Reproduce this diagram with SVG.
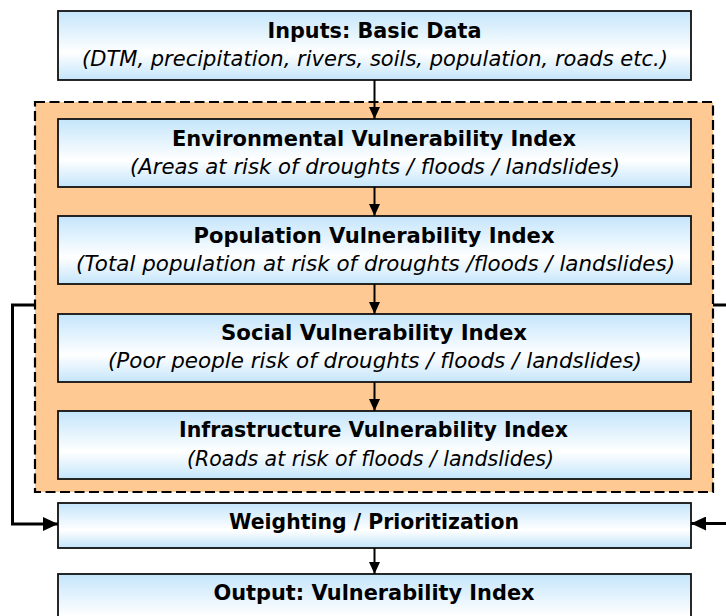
<svg xmlns="http://www.w3.org/2000/svg" width="726" height="616" viewBox="0 0 726 616">
<defs>
<linearGradient id="boxfill" x1="0" y1="0" x2="0" y2="1">
<stop offset="0" stop-color="#c4e5fb"/>
<stop offset="0.6" stop-color="#ffffff"/>
<stop offset="1" stop-color="#c4e5fb"/>
</linearGradient>
<marker id="arrowThin" markerUnits="userSpaceOnUse" markerWidth="12" markerHeight="12" viewBox="0 0 12 12" refX="12" refY="6" orient="auto">
<path d="M0,0.5 L12,6 L0,11.5 Z" fill="#000"/>
</marker>
<marker id="arrowThick" markerUnits="userSpaceOnUse" markerWidth="15" markerHeight="14" viewBox="0 0 15 14" refX="15" refY="7" orient="auto">
<path d="M0,0 L15,7 L0,14 Z" fill="#000"/>
</marker>
</defs>
<style>
.box { fill: url(#boxfill); stroke: #111; stroke-width: 1.8; }
.group { fill: #ffc993; stroke: #000; stroke-width: 2.2; stroke-dasharray: 10 4.5; }
.title { font-family: "DejaVu Sans", "Liberation Sans", sans-serif; font-weight: bold; font-size: 21px; fill: #000; text-anchor: middle; }
.sub { font-family: "DejaVu Sans", "Liberation Sans", sans-serif; font-style: italic; font-size: 21px; fill: #000; text-anchor: middle; }
.thin { fill: none; stroke: #000; stroke-width: 2; marker-end: url(#arrowThin); }
.thick { fill: none; stroke: #000; stroke-width: 3; }
.thickArrow { fill: none; stroke: #000; stroke-width: 3; marker-end: url(#arrowThick); }
</style>
<rect width="726" height="616" fill="#fff"/>

<g id="vulnerability-group">
<rect class="group" x="35" y="102" width="678" height="390"/>
</g>

<g id="inputs">
<rect class="box" x="58" y="11" width="633" height="69"/>
<text class="title" x="374.5" y="37.5" textLength="214" lengthAdjust="spacingAndGlyphs">Inputs: Basic Data</text>
<text class="sub" x="375" y="66" textLength="586" lengthAdjust="spacingAndGlyphs">(DTM, precipitation, rivers, soils, population, roads etc.)</text>
</g>

<g id="environmental">
<rect class="box" x="58" y="119" width="633" height="68"/>
<text class="title" x="374" y="145.5" textLength="404" lengthAdjust="spacingAndGlyphs">Environmental Vulnerability Index</text>
<text class="sub" x="375" y="174" textLength="490" lengthAdjust="spacingAndGlyphs">(Areas at risk of droughts / floods / landslides)</text>
</g>

<g id="population">
<rect class="box" x="58" y="216" width="633" height="68"/>
<text class="title" x="374" y="243" textLength="361" lengthAdjust="spacingAndGlyphs">Population Vulnerability Index</text>
<text class="sub" x="375.5" y="271" textLength="599" lengthAdjust="spacingAndGlyphs">(Total population at risk of droughts /floods / landslides)</text>
</g>

<g id="social">
<rect class="box" x="58" y="314" width="633" height="68"/>
<text class="title" x="374" y="340" textLength="306" lengthAdjust="spacingAndGlyphs">Social Vulnerability Index</text>
<text class="sub" x="375" y="368" textLength="534" lengthAdjust="spacingAndGlyphs">(Poor people risk of droughts / floods / landslides)</text>
</g>

<g id="infrastructure">
<rect class="box" x="58" y="411" width="633" height="68"/>
<text class="title" x="373.5" y="436.5" textLength="389" lengthAdjust="spacingAndGlyphs">Infrastructure Vulnerability Index</text>
<text class="sub" x="370.5" y="466" textLength="367" lengthAdjust="spacingAndGlyphs">(Roads at risk of floods / landslides)</text>
</g>

<g id="weighting">
<rect class="box" x="58" y="503" width="633" height="45"/>
<text class="title" x="374" y="528.5" textLength="290" lengthAdjust="spacingAndGlyphs">Weighting / Prioritization</text>
</g>

<g id="output">
<rect class="box" x="58" y="574" width="633" height="70"/>
<text class="title" x="374" y="600" textLength="321" lengthAdjust="spacingAndGlyphs">Output: Vulnerability Index</text>
</g>

<g id="connectors">
<path class="thin" d="M374.5,80 V119"/>
<path class="thin" d="M374.5,187 V216"/>
<path class="thin" d="M374.5,284 V314"/>
<path class="thin" d="M374.5,382 V411"/>
<path class="thin" d="M374.5,548 V574"/>
<path class="thickArrow" d="M35,305 H12.5 V524 H58"/>
<path class="thick" d="M713,305 H728"/>
<path class="thickArrow" d="M728,523.5 H691"/>
</g>
</svg>
